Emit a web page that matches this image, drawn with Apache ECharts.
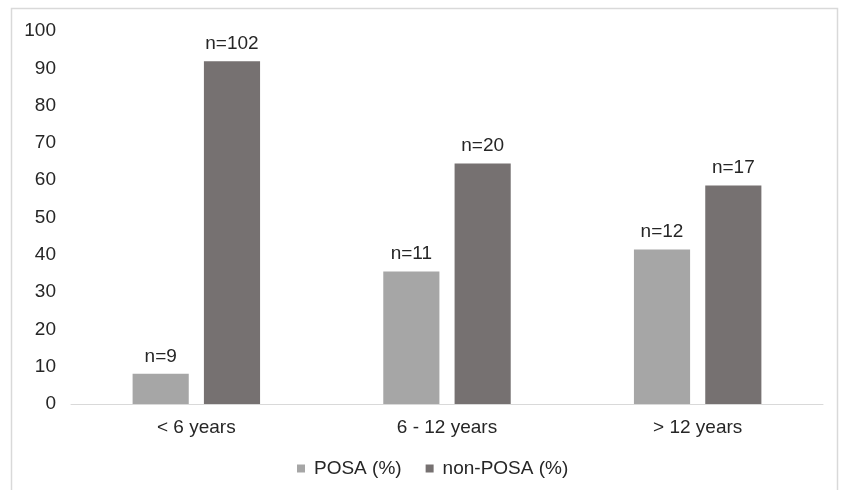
<!DOCTYPE html>
<html>
<head>
<meta charset="utf-8">
<script src="https://cdn.jsdelivr.net/npm/echarts@6/dist/echarts.min.js"></script>
<style>
  html, body { margin: 0; padding: 0; background: #fff; }
  #chart { width: 842px; height: 490px; }
</style>
</head>
<body>
<div id="chart"></div>
<script>
// Age groups and the share of each group in percent
const categories = ['< 6 years', '6 - 12 years', '> 12 years'];
const posaPct = [8.1, 35.5, 41.4];
const nonPosaPct = [91.9, 64.5, 58.6];
// Patient counts shown above the bars
const posaN = [9, 11, 12];
const nonPosaN = [102, 20, 17];
const yTicks = { min: 0, max: 100, interval: 10 };

const font = 'Liberation Sans, Arial, sans-serif';
const textColor = '#262626';
const fontSize = 19;

const chart = echarts.init(document.getElementById('chart'), null, { renderer: 'canvas' });

function labelFor(counts) {
  return {
    show: true,
    position: 'top',
    distance: 8,
    fontFamily: font,
    fontSize: fontSize,
    color: textColor,
    formatter: p => 'n=' + counts[p.dataIndex]
  };
}

chart.setOption({
  animation: false,
  backgroundColor: '#ffffff',
  graphic: [{
    type: 'rect',
    shape: { x: 11.5, y: 8.5, width: 826, height: 500 },
    style: { fill: 'none', stroke: '#d9d9d9', lineWidth: 1.5 },
    silent: true,
    z: -1
  }],
  grid: { left: 71, right: 19, top: 31, bottom: 86, containLabel: false },
  legend: {
    top: 454,
    left: 292,
    itemWidth: 8,
    itemHeight: 8,
    itemGap: 24,
    icon: 'rect',
    textStyle: { fontFamily: font, fontSize: fontSize, color: textColor, padding: [0, 0, 0, 4] },
    data: ['POSA (%)', 'non-POSA (%)']
  },
  xAxis: {
    type: 'category',
    data: categories,
    axisLine: { show: true, lineStyle: { color: '#d9d9d9', width: 1 } },
    axisTick: { show: false },
    axisLabel: { fontFamily: font, fontSize: fontSize, color: textColor, margin: 14 }
  },
  yAxis: {
    type: 'value',
    min: yTicks.min,
    max: yTicks.max,
    interval: yTicks.interval,
    axisLine: { show: false },
    axisTick: { show: false },
    splitLine: { show: false },
    axisLabel: { fontFamily: font, fontSize: fontSize, color: textColor, margin: 15 }
  },
  series: [
    {
      name: 'POSA (%)',
      type: 'bar',
      data: posaPct,
      barWidth: '22.4%',
      barGap: '27%',
      itemStyle: { color: '#a6a6a6' },
      label: labelFor(posaN)
    },
    {
      name: 'non-POSA (%)',
      type: 'bar',
      data: nonPosaPct,
      barWidth: '22.4%',
      itemStyle: { color: '#767171' },
      label: labelFor(nonPosaN)
    }
  ]
});
</script>
</body>
</html>
